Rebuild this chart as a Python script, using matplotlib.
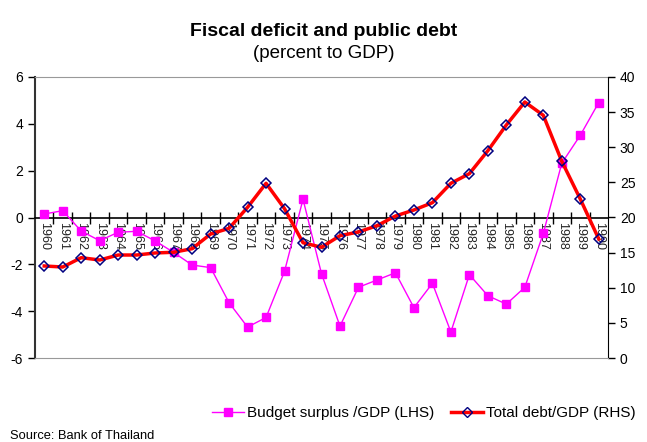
import numpy as np
import matplotlib.pyplot as plt
from matplotlib.lines import Line2D

plt.rcParams['font.family'] = ['Liberation Sans', 'DejaVu Sans']
plt.rcParams['axes.unicode_minus'] = False

years = list(range(1960, 1991))
budget_surplus = [0.15, 0.29, -0.58, -0.99, -0.63, -0.59, -1.00, -1.49, -2.03, -2.14,
                  -3.64, -4.68, -4.27, -2.30, 0.78, -2.40, -4.64, -2.98, -2.67, -2.36,
                  -3.85, -2.81, -4.89, -2.44, -3.34, -3.70, -2.98, -0.68, 2.32, 3.51, 4.91]
total_debt = [13.1, 12.95, 14.28, 13.95, 14.66, 14.66, 14.95, 15.05, 15.56, 17.65,
              18.46, 21.45, 24.87, 21.25, 16.41, 15.76, 17.41, 17.94, 18.83, 20.21,
              21.07, 22.11, 24.87, 26.24, 29.51, 33.17, 36.44, 34.55, 28.0, 22.63, 16.94]

x = np.arange(len(years))

fig = plt.figure(figsize=(6.47, 4.42), dpi=100)
ax = fig.add_axes([35/647, 1-358/442, (608-35)/647, (358-77)/442])
ax2 = ax.twinx()

ax.plot(x, budget_surplus, color='#FF00FF', lw=1, marker='s', ms=5.5,
        mec='#FF00FF', mfc='#FF00FF', zorder=3)
ax2.plot(x, total_debt, color='red', lw=2.5, marker='D', ms=5,
         mec='#000080', mfc='none', mew=1.1, zorder=3)

ax.set_xlim(-0.5, len(years) - 0.5)
ax.set_ylim(-6, 6)
ax.set_yticks([-6, -4, -2, 0, 2, 4, 6])
ax2.set_ylim(0, 40)
ax2.set_yticks(range(0, 41, 5))

# category axis sits on the zero line of the left scale
ax.spines['bottom'].set_position(('data', 0))
ax.spines['bottom'].set_color('black')
ax.spines['bottom'].set_linewidth(1.2)
ax.set_xticks(x)
ax.set_xticklabels([str(y) for y in years], rotation=-90, fontsize=9, color='#222222')
ax.set_xticks(x[:-1] + 0.5, minor=True)
ax.tick_params(axis='x', which='major', length=0, pad=3)
ax.tick_params(axis='x', which='minor', length=8, direction='inout', width=1)

ax.spines['top'].set_color('#999999')
ax.spines['left'].set_color('#333333')
ax.spines['left'].set_linewidth(1.5)
ax.spines['right'].set_visible(False)
ax.tick_params(axis='y', labelsize=10, length=5, width=1)

ax2.spines['top'].set_visible(False)
ax2.spines['left'].set_visible(False)
ax2.spines['bottom'].set_color('#999999')
ax2.spines['right'].set_color('black')
ax2.tick_params(axis='y', labelsize=10, length=5, width=1)

fig.text(0.5, 1-31/442, 'Fiscal deficit and public debt', ha='center', va='center',
         fontsize=14, fontweight='bold')
fig.text(0.5, 1-53/442, '(percent to GDP)', ha='center', va='center', fontsize=13.5)

handles = [
    Line2D([], [], color='#FF00FF', lw=1, marker='s', ms=5.5, mfc='#FF00FF', mec='#FF00FF'),
    Line2D([], [], color='red', lw=2.5, marker='D', ms=5, mfc='none', mec='#000080'),
]
fig.legend(handles, ['Budget surplus /GDP (LHS)', 'Total debt/GDP (RHS)'],
           loc='center', bbox_to_anchor=(424/647, 1-413/442), ncol=2, frameon=False,
           fontsize=11, handlelength=2.1, handletextpad=0.2, columnspacing=1.1,
           borderpad=0, borderaxespad=0)

fig.text(10/647, 1-436/442, 'Source: Bank of Thailand', ha='left', va='center', fontsize=9.3)

fig.savefig('out.png', dpi=100)
